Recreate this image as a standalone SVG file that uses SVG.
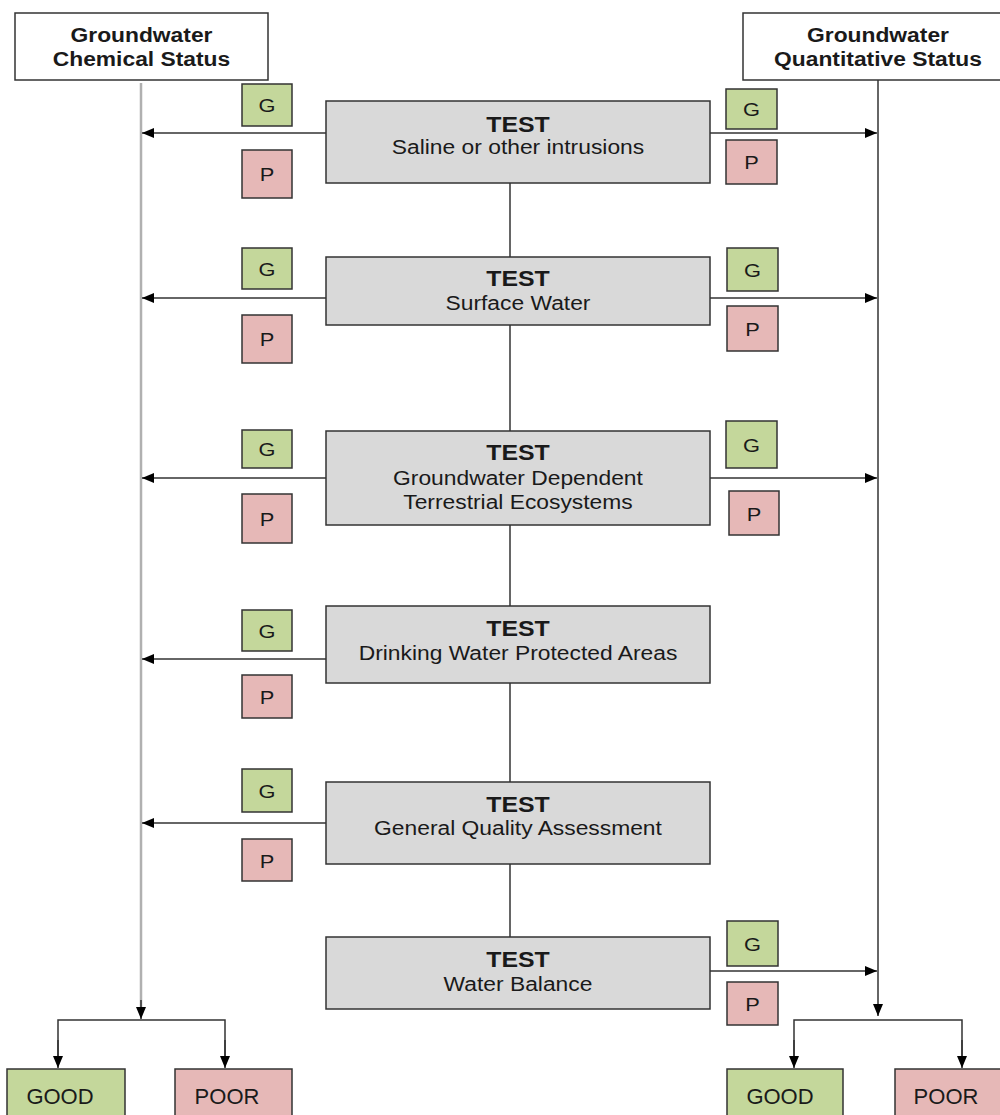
<svg xmlns="http://www.w3.org/2000/svg" width="1000" height="1115" viewBox="0 0 1000 1115">
<defs>
<marker id="ah" viewBox="0 0 12 10" refX="12" refY="5" markerWidth="12" markerHeight="10" markerUnits="userSpaceOnUse" orient="auto">
<path d="M0,0 L12,5 L0,10 Z" fill="#000"/>
</marker>
<style>
text{font-family:"Liberation Sans",Arial,sans-serif;fill:#1a1a1a;text-anchor:middle;transform-box:fill-box;transform-origin:center}
.hdr{fill:#fff;stroke:#333;stroke-width:1.5}
.hdrt{font-size:19.5px;font-weight:bold;transform:scaleX(1.17)}
.test{fill:#d9d9d9;stroke:#333;stroke-width:1.5}
.tt{font-size:22px;font-weight:bold;transform:scaleX(1.13)}
.ts{font-size:19.5px;transform:scaleX(1.17)}
.g{fill:#c4d79b;stroke:#333;stroke-width:1.5}
.p{fill:#e6b8b7;stroke:#333;stroke-width:1.5}
.gp{font-size:19px;transform:scaleX(1.15)}
.res{font-size:22px}
.ln{stroke:#333;stroke-width:1.5;fill:none}
.arr{stroke:#333;stroke-width:1.5;fill:none;marker-end:url(#ah)}
.gl{stroke:#b0b0b0;stroke-width:2.5;fill:none}
</style>
</defs>

<g id="connectors">
<line class="ln" x1="510" y1="183" x2="510" y2="937"/>
<line class="gl" x1="141" y1="83" x2="141" y2="1008"/>
<line class="arr" x1="141" y1="1000" x2="141" y2="1019"/>
<line class="arr" x1="878" y1="80" x2="878" y2="1016"/>
<polyline class="ln" points="58,1056 58,1020 225,1020 225,1056"/>
<line class="arr" x1="58" y1="1040" x2="58" y2="1068"/>
<line class="arr" x1="225" y1="1040" x2="225" y2="1068"/>
<polyline class="ln" points="794,1056 794,1020 962,1020 962,1056"/>
<line class="arr" x1="794" y1="1040" x2="794" y2="1068"/>
<line class="arr" x1="962" y1="1040" x2="962" y2="1068"/>
<line class="arr" x1="326" y1="133" x2="142" y2="133"/>
<line class="arr" x1="710" y1="133" x2="877" y2="133"/>
<line class="arr" x1="326" y1="298" x2="142" y2="298"/>
<line class="arr" x1="710" y1="298" x2="877" y2="298"/>
<line class="arr" x1="326" y1="478" x2="142" y2="478"/>
<line class="arr" x1="710" y1="478" x2="877" y2="478"/>
<line class="arr" x1="326" y1="659" x2="142" y2="659"/>
<line class="arr" x1="326" y1="823" x2="142" y2="823"/>
<line class="arr" x1="710" y1="971" x2="877" y2="971"/>
</g>

<g id="hdr-chem">
<rect class="hdr" x="15" y="13" width="253" height="67"/>
<text class="hdrt" x="141.5" y="42">Groundwater</text>
<text class="hdrt" x="141.5" y="66">Chemical Status</text>
</g>
<g id="hdr-quant">
<rect class="hdr" x="743" y="13" width="270" height="67"/>
<text class="hdrt" x="878" y="42">Groundwater</text>
<text class="hdrt" x="878" y="66">Quantitative Status</text>
</g>

<g id="test1">
<rect class="test" x="326" y="101" width="384" height="82"/>
<text class="tt" x="518" y="132">TEST</text>
<text class="ts" x="518" y="154">Saline or other intrusions</text>
</g>
<g id="test2">
<rect class="test" x="326" y="257" width="384" height="68"/>
<text class="tt" x="518" y="286">TEST</text>
<text class="ts" x="518" y="310">Surface Water</text>
</g>
<g id="test3">
<rect class="test" x="326" y="431" width="384" height="94"/>
<text class="tt" x="518" y="460">TEST</text>
<text class="ts" x="518" y="485">Groundwater Dependent</text>
<text class="ts" x="518" y="509">Terrestrial Ecosystems</text>
</g>
<g id="test4">
<rect class="test" x="326" y="606" width="384" height="77"/>
<text class="tt" x="518" y="636">TEST</text>
<text class="ts" x="518" y="660">Drinking Water Protected Areas</text>
</g>
<g id="test5">
<rect class="test" x="326" y="782" width="384" height="82"/>
<text class="tt" x="518" y="812">TEST</text>
<text class="ts" x="518" y="835">General Quality Assessment</text>
</g>
<g id="test6">
<rect class="test" x="326" y="937" width="384" height="72"/>
<text class="tt" x="518" y="967">TEST</text>
<text class="ts" x="518" y="991">Water Balance</text>
</g>

<g id="g1l"><rect class="g" x="242" y="84" width="50" height="42"/><text class="gp" x="267" y="112">G</text></g>
<g id="p1l"><rect class="p" x="242" y="150" width="50" height="48"/><text class="gp" x="267" y="181">P</text></g>
<g id="g1r"><rect class="g" x="726" y="89" width="51" height="40"/><text class="gp" x="751.5" y="116">G</text></g>
<g id="p1r"><rect class="p" x="726" y="140" width="51" height="44"/><text class="gp" x="751.5" y="169">P</text></g>

<g id="g2l"><rect class="g" x="242" y="248" width="50" height="41"/><text class="gp" x="267" y="276">G</text></g>
<g id="p2l"><rect class="p" x="242" y="315" width="50" height="48"/><text class="gp" x="267" y="346">P</text></g>
<g id="g2r"><rect class="g" x="727" y="248" width="51" height="43"/><text class="gp" x="752.5" y="277">G</text></g>
<g id="p2r"><rect class="p" x="727" y="306" width="51" height="45"/><text class="gp" x="752.5" y="336">P</text></g>

<g id="g3l"><rect class="g" x="242" y="430" width="50" height="38"/><text class="gp" x="267" y="456">G</text></g>
<g id="p3l"><rect class="p" x="242" y="494" width="50" height="49"/><text class="gp" x="267" y="526">P</text></g>
<g id="g3r"><rect class="g" x="726" y="421" width="51" height="47"/><text class="gp" x="751.5" y="452">G</text></g>
<g id="p3r"><rect class="p" x="729" y="491" width="50" height="44"/><text class="gp" x="754" y="521">P</text></g>

<g id="g4l"><rect class="g" x="242" y="610" width="50" height="41"/><text class="gp" x="267" y="638">G</text></g>
<g id="p4l"><rect class="p" x="242" y="675" width="50" height="43"/><text class="gp" x="267" y="704">P</text></g>

<g id="g5l"><rect class="g" x="242" y="769" width="50" height="43"/><text class="gp" x="267" y="798">G</text></g>
<g id="p5l"><rect class="p" x="242" y="839" width="50" height="42"/><text class="gp" x="267" y="868">P</text></g>

<g id="g6r"><rect class="g" x="727" y="921" width="51" height="45"/><text class="gp" x="752.5" y="951">G</text></g>
<g id="p6r"><rect class="p" x="727" y="982" width="51" height="43"/><text class="gp" x="752.5" y="1011">P</text></g>

<g id="good-chem"><rect class="g" x="7" y="1069" width="118" height="60"/><text class="res" x="60" y="1104">GOOD</text></g>
<g id="poor-chem"><rect class="p" x="175" y="1069" width="117" height="60"/><text class="res" x="227" y="1104">POOR</text></g>
<g id="good-quant"><rect class="g" x="727" y="1069" width="116" height="60"/><text class="res" x="780" y="1104">GOOD</text></g>
<g id="poor-quant"><rect class="p" x="895" y="1069" width="120" height="60"/><text class="res" x="946" y="1104">POOR</text></g>
</svg>
